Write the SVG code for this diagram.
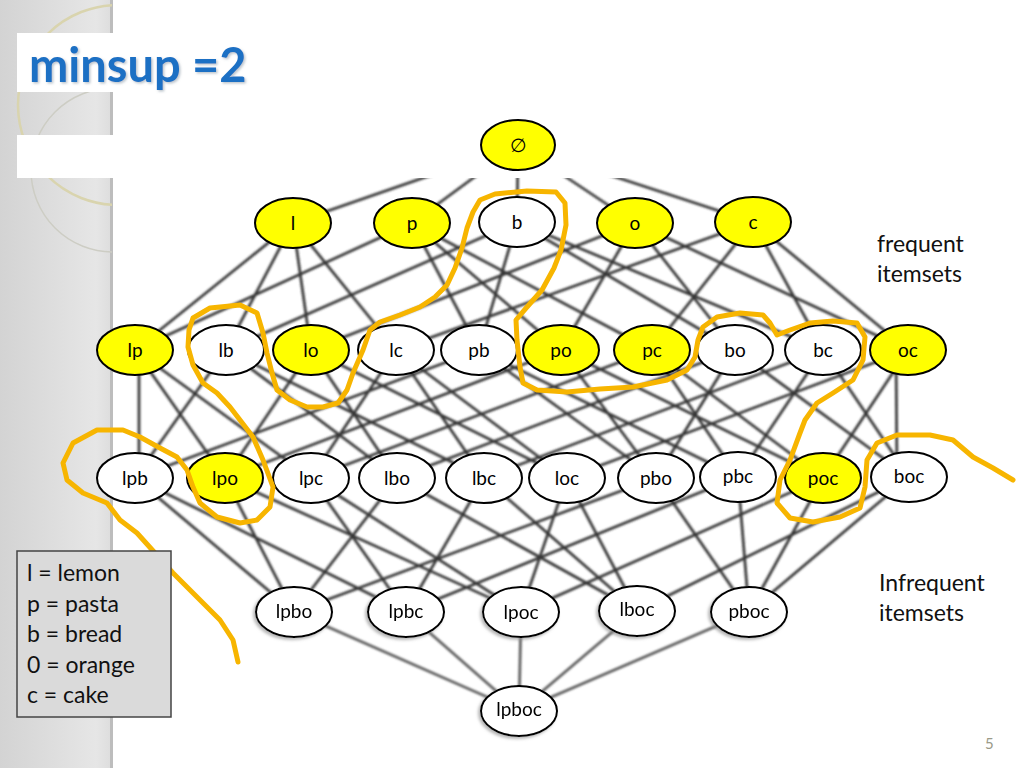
<svg xmlns="http://www.w3.org/2000/svg" width="1024" height="768" viewBox="0 0 1024 768">
<defs>
<linearGradient id="strip" x1="0" y1="0" x2="1" y2="0">
<stop offset="0" stop-color="#d3d3d3"/>
<stop offset="0.85" stop-color="#e6e6e6"/>
<stop offset="1" stop-color="#dcdcdc"/>
</linearGradient>
<filter id="soft" x="-5%" y="-5%" width="110%" height="110%">
<feGaussianBlur stdDeviation="0.9"/>
</filter>
<filter id="tshadow" x="-10%" y="-20%" width="120%" height="150%">
<feDropShadow dx="1.5" dy="1.5" stdDeviation="1" flood-color="#7a8a9a" flood-opacity="0.5"/>
</filter>
<filter id="nshadow" x="-20%" y="-20%" width="140%" height="150%">
<feDropShadow dx="-2" dy="2" stdDeviation="1.5" flood-color="#888" flood-opacity="0.6"/>
</filter>
<clipPath id="stripclip"><rect x="0" y="0" width="112" height="768"/></clipPath>
<style>
.conn line{stroke:#363636;stroke-width:2.7;fill:none}
.node ellipse{stroke:#000;stroke-width:2}
.f ellipse{fill:#ffff00}
.w ellipse{fill:#fff}
.node text{font-family:Lato,"Liberation Sans",sans-serif;font-size:19px;fill:#000;text-anchor:middle}
.lbl{font-family:Lato,"Liberation Sans",sans-serif;font-size:23px;fill:#111}
.leg{font-family:Lato,"Liberation Sans",sans-serif;font-size:23px;fill:#111}
</style>
</defs>

<rect x="0" y="0" width="1024" height="768" fill="#fff"/>
<rect x="0" y="0" width="113" height="768" fill="url(#strip)"/>
<line x1="111.5" y1="0" x2="111.5" y2="768" stroke="#bdbdbd" stroke-width="3"/>
<g clip-path="url(#stripclip)" fill="none" stroke="#d9d4ae" stroke-width="2.5">
<circle cx="118" cy="105" r="100"/>
<circle cx="113" cy="170" r="82" stroke-width="1.5" stroke="#cdcdc4"/>
</g>
<rect x="17" y="33" width="96" height="59" fill="#fff"/>

<g id="connectors" class="conn" filter="url(#soft)">
<line x1="518" y1="145" x2="293" y2="223"/>
<line x1="518" y1="145" x2="412" y2="223"/>
<line x1="518" y1="145" x2="517" y2="222"/>
<line x1="518" y1="145" x2="635" y2="223"/>
<line x1="518" y1="145" x2="753" y2="222"/>
<line x1="293" y1="223" x2="135" y2="350"/>
<line x1="293" y1="223" x2="226" y2="350"/>
<line x1="293" y1="223" x2="311" y2="350"/>
<line x1="293" y1="223" x2="396" y2="350"/>
<line x1="412" y1="223" x2="135" y2="350"/>
<line x1="412" y1="223" x2="479" y2="350"/>
<line x1="412" y1="223" x2="561" y2="350"/>
<line x1="412" y1="223" x2="652" y2="350"/>
<line x1="517" y1="222" x2="226" y2="350"/>
<line x1="517" y1="222" x2="479" y2="350"/>
<line x1="517" y1="222" x2="735" y2="350"/>
<line x1="517" y1="222" x2="823" y2="350"/>
<line x1="635" y1="223" x2="311" y2="350"/>
<line x1="635" y1="223" x2="561" y2="350"/>
<line x1="635" y1="223" x2="735" y2="350"/>
<line x1="635" y1="223" x2="908" y2="350"/>
<line x1="753" y1="222" x2="396" y2="350"/>
<line x1="753" y1="222" x2="652" y2="350"/>
<line x1="753" y1="222" x2="823" y2="350"/>
<line x1="753" y1="222" x2="908" y2="350"/>
<line x1="139" y1="350" x2="139" y2="478"/>
<line x1="135" y1="350" x2="225" y2="478"/>
<line x1="135" y1="350" x2="311" y2="478"/>
<line x1="226" y1="350" x2="135" y2="478"/>
<line x1="226" y1="350" x2="397" y2="478"/>
<line x1="226" y1="350" x2="484" y2="478"/>
<line x1="311" y1="350" x2="225" y2="478"/>
<line x1="311" y1="350" x2="397" y2="478"/>
<line x1="311" y1="350" x2="567" y2="478"/>
<line x1="396" y1="350" x2="311" y2="478"/>
<line x1="396" y1="350" x2="484" y2="478"/>
<line x1="396" y1="350" x2="567" y2="478"/>
<line x1="479" y1="350" x2="135" y2="478"/>
<line x1="479" y1="350" x2="656" y2="478"/>
<line x1="479" y1="350" x2="738" y2="477"/>
<line x1="561" y1="350" x2="225" y2="478"/>
<line x1="561" y1="350" x2="656" y2="478"/>
<line x1="561" y1="350" x2="823" y2="478"/>
<line x1="652" y1="350" x2="311" y2="478"/>
<line x1="652" y1="350" x2="738" y2="477"/>
<line x1="652" y1="350" x2="823" y2="478"/>
<line x1="735" y1="350" x2="397" y2="478"/>
<line x1="735" y1="350" x2="656" y2="478"/>
<line x1="735" y1="350" x2="909" y2="477"/>
<line x1="823" y1="350" x2="484" y2="478"/>
<line x1="823" y1="350" x2="738" y2="477"/>
<line x1="823" y1="350" x2="909" y2="477"/>
<line x1="908" y1="350" x2="567" y2="478"/>
<line x1="908" y1="350" x2="823" y2="478"/>
<line x1="896" y1="350" x2="897" y2="477"/>
<line x1="135" y1="478" x2="294" y2="612"/>
<line x1="135" y1="478" x2="406" y2="612"/>
<line x1="225" y1="478" x2="294" y2="612"/>
<line x1="225" y1="478" x2="521" y2="612"/>
<line x1="311" y1="478" x2="406" y2="612"/>
<line x1="311" y1="478" x2="521" y2="612"/>
<line x1="397" y1="478" x2="294" y2="612"/>
<line x1="397" y1="478" x2="637" y2="611"/>
<line x1="484" y1="478" x2="406" y2="612"/>
<line x1="484" y1="478" x2="637" y2="611"/>
<line x1="567" y1="478" x2="521" y2="612"/>
<line x1="567" y1="478" x2="637" y2="611"/>
<line x1="656" y1="478" x2="294" y2="612"/>
<line x1="656" y1="478" x2="749" y2="612"/>
<line x1="738" y1="477" x2="406" y2="612"/>
<line x1="738" y1="477" x2="749" y2="612"/>
<line x1="823" y1="478" x2="521" y2="612"/>
<line x1="823" y1="478" x2="749" y2="612"/>
<line x1="909" y1="477" x2="637" y2="611"/>
<line x1="909" y1="477" x2="749" y2="612"/>
<line x1="294" y1="612" x2="519" y2="711" style="stroke:#5a5a5a"/>
<line x1="406" y1="612" x2="519" y2="711" style="stroke:#5a5a5a"/>
<line x1="521" y1="612" x2="519" y2="711" style="stroke:#5a5a5a"/>
<line x1="637" y1="611" x2="519" y2="711" style="stroke:#5a5a5a"/>
<line x1="749" y1="612" x2="519" y2="711" style="stroke:#5a5a5a"/>
</g>

<rect x="17" y="135" width="1007" height="43" fill="#fff"/>

<g id="n-empty" class="node f"><ellipse cx="518" cy="145" rx="37" ry="25"/><text x="518" y="152">∅</text></g>
<g id="n-l" class="node f"><ellipse cx="293" cy="223" rx="38" ry="25"/><text x="293" y="230">l</text></g>
<g id="n-p" class="node f"><ellipse cx="412" cy="223" rx="38" ry="25"/><text x="412" y="230">p</text></g>
<g id="n-b" class="node w"><ellipse cx="517" cy="222" rx="38" ry="25"/><text x="517" y="229">b</text></g>
<g id="n-o" class="node f"><ellipse cx="635" cy="223" rx="38" ry="25"/><text x="635" y="230">o</text></g>
<g id="n-c" class="node f"><ellipse cx="753" cy="222" rx="38" ry="25"/><text x="753" y="229">c</text></g>

<g id="n-lp" class="node f"><ellipse cx="135" cy="350" rx="38" ry="25"/><text x="135" y="357">lp</text></g>
<g id="n-lb" class="node w"><ellipse cx="226" cy="350" rx="38" ry="25"/><text x="226" y="357">lb</text></g>
<g id="n-lo" class="node f"><ellipse cx="311" cy="350" rx="38" ry="25"/><text x="311" y="357">lo</text></g>
<g id="n-lc" class="node w"><ellipse cx="396" cy="350" rx="38" ry="25"/><text x="396" y="357">lc</text></g>
<g id="n-pb" class="node w"><ellipse cx="479" cy="350" rx="38" ry="25"/><text x="479" y="357">pb</text></g>
<g id="n-po" class="node f"><ellipse cx="561" cy="350" rx="38" ry="25"/><text x="561" y="357">po</text></g>
<g id="n-pc" class="node f"><ellipse cx="652" cy="350" rx="38" ry="25"/><text x="652" y="357">pc</text></g>
<g id="n-bo" class="node w"><ellipse cx="735" cy="350" rx="38" ry="25"/><text x="735" y="357">bo</text></g>
<g id="n-bc" class="node w"><ellipse cx="823" cy="350" rx="38" ry="25"/><text x="823" y="357">bc</text></g>
<g id="n-oc" class="node f"><ellipse cx="908" cy="350" rx="38" ry="25"/><text x="908" y="357">oc</text></g>

<g id="n-lpb" class="node w"><ellipse cx="135" cy="478" rx="38" ry="25"/><text x="135" y="485">lpb</text></g>
<g id="n-lpo" class="node f"><ellipse cx="225" cy="478" rx="38" ry="25"/><text x="225" y="485">lpo</text></g>
<g id="n-lpc" class="node w"><ellipse cx="311" cy="478" rx="38" ry="25"/><text x="311" y="485">lpc</text></g>
<g id="n-lbo" class="node w"><ellipse cx="397" cy="478" rx="38" ry="25"/><text x="397" y="485">lbo</text></g>
<g id="n-lbc" class="node w"><ellipse cx="484" cy="478" rx="38" ry="25"/><text x="484" y="485">lbc</text></g>
<g id="n-loc" class="node w"><ellipse cx="567" cy="478" rx="38" ry="25"/><text x="567" y="485">loc</text></g>
<g id="n-pbo" class="node w"><ellipse cx="656" cy="478" rx="38" ry="25"/><text x="656" y="485">pbo</text></g>
<g id="n-pbc" class="node w"><ellipse cx="738" cy="477" rx="38" ry="25"/><text x="738" y="483">pbc</text></g>
<g id="n-poc" class="node f"><ellipse cx="823" cy="478" rx="38" ry="25"/><text x="823" y="485">poc</text></g>
<g id="n-boc" class="node w"><ellipse cx="909" cy="477" rx="38" ry="25"/><text x="909" y="483">boc</text></g>

<g id="n-lpbo" class="node w" filter="url(#nshadow)"><ellipse cx="294" cy="612" rx="38" ry="25"/><text x="294" y="618">lpbo</text></g>
<g id="n-lpbc" class="node w" filter="url(#nshadow)"><ellipse cx="406" cy="612" rx="38" ry="25"/><text x="406" y="618">lpbc</text></g>
<g id="n-lpoc" class="node w" filter="url(#nshadow)"><ellipse cx="521" cy="612" rx="38" ry="25"/><text x="521" y="619">lpoc</text></g>
<g id="n-lboc" class="node w" filter="url(#nshadow)"><ellipse cx="637" cy="611" rx="38" ry="25"/><text x="637" y="616">lboc</text></g>
<g id="n-pboc" class="node w" filter="url(#nshadow)"><ellipse cx="749" cy="612" rx="38" ry="25"/><text x="749" y="618">pboc</text></g>

<g id="n-lpboc" class="node w" filter="url(#nshadow)"><ellipse cx="519" cy="711" rx="38" ry="25"/><text x="519" y="716">lpboc</text></g>

<polyline id="border" fill="none" stroke="#f7b500" stroke-width="5" stroke-linejoin="round" stroke-linecap="round" points="238,662 233,640 220,620 207,607 187,587 173,573 155,553 137,533 120,520 107,503 83,493 67,480 63,463 73,443 97,430 123,430 140,437 160,448 177,457 187,470 193,487 200,503 217,517 240,523 257,520 270,507 273,487 263,460 253,437 240,420 230,407 217,393 203,383 193,365 188,347 189,330 193,318 210,308 240,305 257,313 263,333 267,353 272,373 277,390 290,400 307,407 323,407 338,403 347,390 353,373 363,350 370,330 380,322 400,315 420,307 435,297 447,285 455,268 462,248 467,228 473,212 480,200 495,194 527,191 556,192 565,203 566,225 561,250 554,268 542,290 527,307 516,320 517,340 520,367 523,383 537,390 567,392 600,389 633,387 667,380 687,370 695,357 698,340 703,327 717,317 740,313 763,315 770,323 777,335 790,330 810,323 833,321 857,323 865,337 863,360 853,380 833,393 817,403 805,420 800,433 790,460 780,480 777,503 790,518 813,522 840,517 860,508 865,487 867,460 877,443 897,435 930,435 953,440 973,457 993,468 1013,480"/>

<text x="29" y="82" filter="url(#tshadow)" font-family="Lato,'Liberation Sans',sans-serif" font-weight="700" font-size="47" fill="#1a6fc4">minsup =2</text>

<text class="lbl" x="877" y="252" font-size="22">frequent</text>
<text class="lbl" x="877" y="282" font-size="22">itemsets</text>
<text class="lbl" x="879" y="591">Infrequent</text>
<text class="lbl" x="879" y="621">itemsets</text>

<g id="legend">
<rect x="17" y="551" width="154" height="166" fill="#dadada" stroke="#444" stroke-width="1.5"/>
<text class="leg" x="27" y="581">l = lemon</text>
<text class="leg" x="27" y="612">p = pasta</text>
<text class="leg" x="27" y="642">b = bread</text>
<text class="leg" x="27" y="673">0 = orange</text>
<text class="leg" x="27" y="703">c = cake</text>
</g>

<text x="985" y="749" font-family="Lato,'Liberation Sans',sans-serif" font-size="15" fill="#9a9a88">5</text>
</svg>
